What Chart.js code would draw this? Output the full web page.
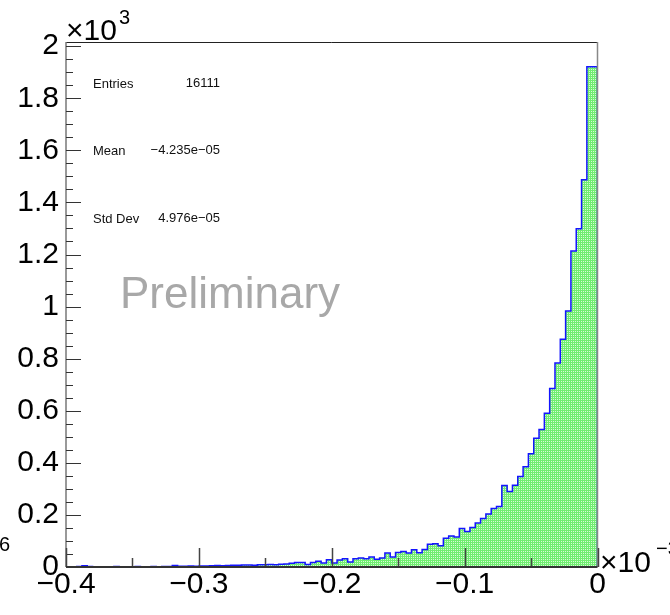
<!DOCTYPE html>
<html>
<head>
<meta charset="utf-8">
<script src="https://cdn.jsdelivr.net/npm/chart.js@4.4.1/dist/chart.umd.min.js"></script>
<style>
  html, body { margin: 0; padding: 0; background: #fff; }
  #wrap { width: 670px; height: 615px; position: relative; }
</style>
</head>
<body>
<div id="wrap"><canvas id="histo" width="670" height="615"></canvas></div>
<script>
// histogram: 100 bins between -0.4e-3 and 0
const binLow = -0.0004;
const binHigh = 0;
const binCounts = [
  1, 0, 1, 2, 5, 2, 1, 1, 0, 1,
  2, 1, 1, 0, 2, 1, 1, 2, 1, 2,
  2, 6, 3, 3, 4, 3, 4, 4, 5, 6,
  5, 6, 7, 7, 8, 8, 7, 9, 9, 10,
  9, 11, 12, 14, 17, 17, 10, 17, 22, 15,
  28, 15, 27, 32, 19, 32, 35, 32, 38, 30,
  35, 54, 38, 56, 60, 54, 66, 55, 67, 87,
  89, 82, 110, 119, 115, 148, 136, 152, 169, 186,
  204, 225, 232, 313, 290, 314, 348, 385, 435, 494,
  528, 590, 685, 783, 875, 983, 1213, 1299, 1487, 1921
];
const yMax = 2016;
const yTickValues = [0, 200, 400, 600, 800, 1000, 1200, 1400, 1600, 1800, 2000];
const yTickLabels = ["0", "0.2", "0.4", "0.6", "0.8", "1", "1.2", "1.4", "1.6", "1.8", "2"];
const xTickValues = [-0.0004, -0.0003, -0.0002, -0.0001, 0];
const xTickLabels = ["\u22120.4", "\u22120.3", "\u22120.2", "\u22120.1", "0"];
const statNames = ["Entries", "Mean", "Std Dev"];
const statValues = ["16111", "\u22124.235e\u221205", "4.976e\u221205"];

const binWidth = (binHigh - binLow) / binCounts.length;

// step outline points (left edge of each bin), closed to the baseline at both ends
const points = [{ x: binLow, y: 0 }];
binCounts.forEach((c, i) => points.push({ x: binLow + i * binWidth, y: c }));
points.push({ x: binHigh, y: binCounts[binCounts.length - 1] });
points.push({ x: binHigh, y: 0 });

// dotted light green fill like the ROOT fill style
function makePattern() {
  const p = document.createElement("canvas");
  p.width = 2; p.height = 2;
  const c = p.getContext("2d");
  c.fillStyle = "rgb(112,238,112)";
  c.fillRect(0, 0, 2, 2);
  c.fillStyle = "rgb(214,250,214)";
  c.fillRect(1, 1, 1, 1);
  return c.createPattern(p, "repeat");
}

const FONT = "'Liberation Sans', Arial, Helvetica, sans-serif";

const rootFrame = {
  id: "rootFrame",
  afterDatasetsDraw(chart) {
    const { ctx, chartArea: a, scales: { x, y } } = chart;
    ctx.save();
    // frame: top and right
    ctx.strokeStyle = "#222";
    ctx.lineWidth = 1;
    ctx.beginPath();
    ctx.moveTo(a.left, a.top + 0.5);
    ctx.lineTo(a.right, a.top + 0.5);
    ctx.stroke();
    ctx.strokeStyle = "#888";
    ctx.lineWidth = 1.5;
    ctx.beginPath();
    ctx.moveTo(a.right, a.top);
    ctx.lineTo(a.right, a.bottom);
    ctx.stroke();
    // y axis line and inside ticks
    ctx.strokeStyle = "#777";
    ctx.lineWidth = 1.5;
    ctx.beginPath();
    ctx.moveTo(a.left, a.top);
    ctx.lineTo(a.left, a.bottom);
    ctx.stroke();
    ctx.lineWidth = 1;
    ctx.strokeStyle = "#333";
    ctx.beginPath();
    for (let v = 0; v <= yMax; v += 50) {
      const py = Math.round(y.getPixelForValue(v)) + 0.5;
      const len = yTickValues.includes(v) ? 15 : 7;
      ctx.moveTo(a.left, py);
      ctx.lineTo(a.left + len, py);
    }
    ctx.stroke();
    // x axis line and inside ticks
    ctx.strokeStyle = "#444";
    ctx.lineWidth = 1.5;
    ctx.beginPath();
    for (let i = 0; i <= 8; i++) {
      const v = binLow + i * 0.00005;
      const px = Math.round(x.getPixelForValue(v)) + 0.5;
      const len = i % 2 === 0 ? 19 : 9;
      ctx.moveTo(px, a.bottom);
      ctx.lineTo(px, a.bottom - len);
    }
    ctx.stroke();
    ctx.strokeStyle = "#333";
    ctx.lineWidth = 2;
    ctx.beginPath();
    ctx.moveTo(a.left, a.bottom);
    ctx.lineTo(a.right, a.bottom);
    ctx.stroke();

    // stats
    ctx.fillStyle = "#111";
    ctx.font = "13px " + FONT;
    const rows = [88, 155, 222.5];
    statNames.forEach((n, i) => {
      ctx.textAlign = "left";
      ctx.fillText(n, 93, rows[i]);
      ctx.textAlign = "right";
      ctx.fillText(statValues[i], 220, rows[i] - 1);
    });

    // watermark
    ctx.textAlign = "left";
    ctx.fillStyle = "rgb(168,168,168)";
    ctx.font = "44px " + FONT;
    ctx.fillText("Preliminary", 120, 308);

    // axis exponents
    ctx.fillStyle = "#000";
    ctx.font = "30px " + FONT;
    ctx.fillText("\u00d710", 66, 40);
    ctx.fillText("\u00d710", 600, 572);
    ctx.font = "20px " + FONT;
    ctx.fillText("3", 119, 24);
    ctx.fillText("\u22123", 656, 555);
    ctx.fillText("6", -1, 551);
    ctx.restore();
  }
};

new Chart(document.getElementById("histo"), {
  type: "line",
  data: {
    datasets: [{
      data: points,
      stepped: "after",
      borderColor: "#1414ff",
      borderWidth: 1.5,
      backgroundColor: makePattern(),
      fill: "origin",
      pointRadius: 0,
      tension: 0
    }]
  },
  options: {
    responsive: false,
    animation: false,
    events: [],
    layout: { padding: { left: 0, right: 72.5, top: 42, bottom: 0 } },
    plugins: { legend: { display: false }, tooltip: { enabled: false } },
    scales: {
      x: {
        type: "linear",
        min: binLow,
        max: binHigh,
        afterFit: s => { s.height = 48; },
        afterBuildTicks: s => { s.ticks = xTickValues.map(v => ({ value: v })); },
        grid: { display: false, drawTicks: false },
        border: { display: false },
        ticks: {
          padding: 0,
          maxRotation: 0,
          autoSkip: false,
          color: "#000",
          font: { family: FONT, size: 30 },
          callback: (v, i) => xTickLabels[i]
        }
      },
      y: {
        min: 0,
        max: yMax,
        afterFit: s => { s.width = 66; },
        afterBuildTicks: s => { s.ticks = yTickValues.map(v => ({ value: v })); },
        grid: { display: false, drawTicks: false },
        border: { display: false },
        ticks: {
          padding: 7,
          autoSkip: false,
          color: "#000",
          font: { family: FONT, size: 30 },
          callback: (v, i) => yTickLabels[i]
        }
      }
    }
  },
  plugins: [rootFrame]
});
</script>
</body>
</html>
